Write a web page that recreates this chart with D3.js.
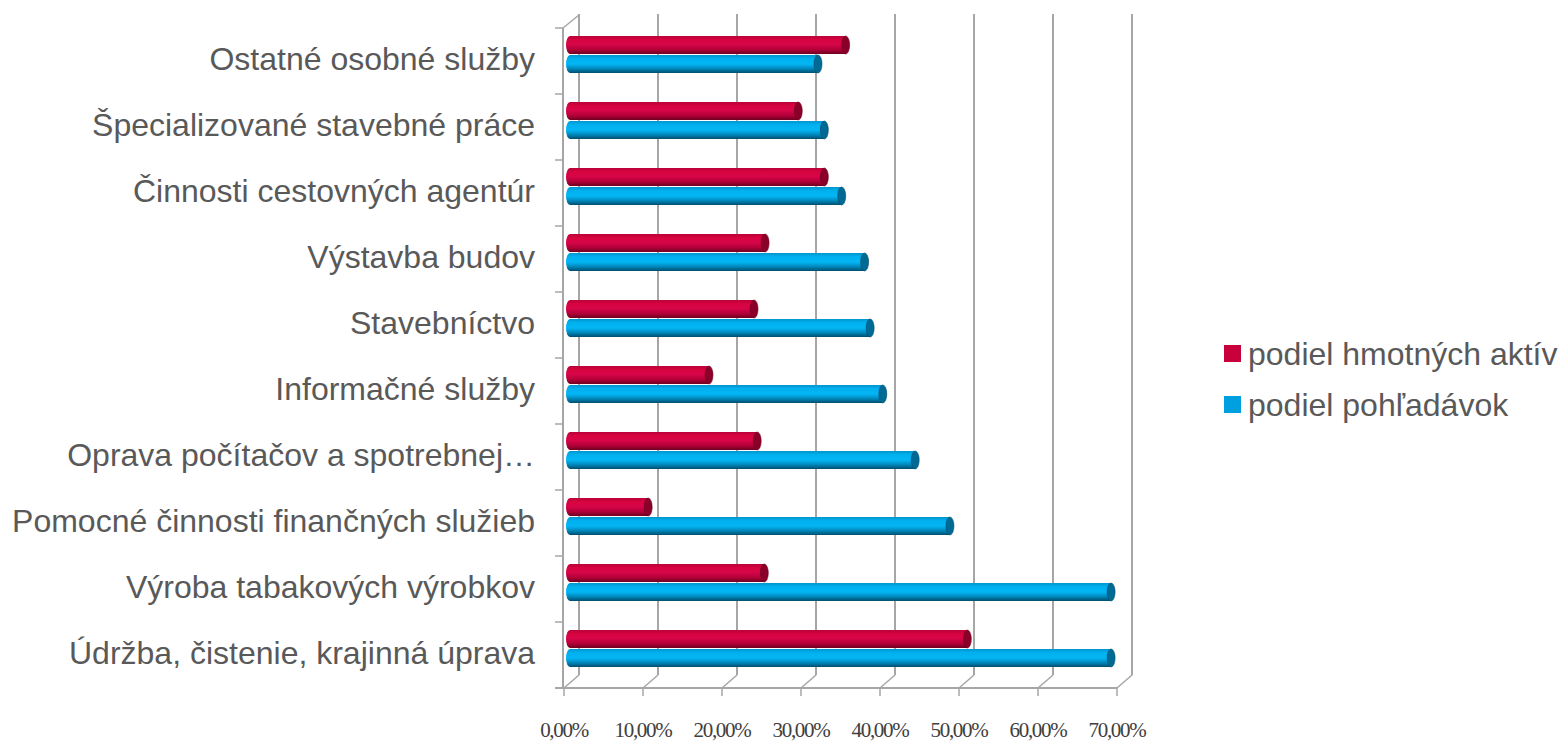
<!DOCTYPE html>
<html>
<head>
<meta charset="utf-8">
<script src="https://cdn.jsdelivr.net/npm/d3@7"></script>
<style>
  body { margin: 0; background: #fff; }
  svg { display: block; }
</style>
</head>
<body>
<div id="chart"></div>
<script>
// categories from top to bottom
var categories = [
    "Ostatné osobné služby",
    "Špecializované stavebné práce",
    "Činnosti cestovných agentúr",
    "Výstavba budov",
    "Stavebníctvo",
    "Informačné služby",
    "Oprava počítačov a spotrebnej…",
    "Pomocné činnosti finančných služieb",
    "Výroba tabakových výrobkov",
    "Údržba, čistenie, krajinná úprava"
];
var hmotneAktiva = [0.354, 0.294, 0.327, 0.252, 0.238, 0.181, 0.242, 0.104, 0.251, 0.508];
var pohladavky   = [0.319, 0.327, 0.349, 0.378, 0.385, 0.401, 0.442, 0.486, 0.690, 0.690];
var seriesNames = ["podiel hmotných aktív", "podiel pohľadávok"];
var tickValues = [0, 0.1, 0.2, 0.3, 0.4, 0.5, 0.6, 0.7];

var width = 1560, height = 741;
var depth = {dx: 15, dy: -13};

var svg = d3.select("#chart").append("svg")
    .attr("width", width)
    .attr("height", height);

var defs = svg.append("defs");

function cylGradient(id, stops) {
    var g = defs.append("linearGradient")
        .attr("id", id)
        .attr("x1", 0).attr("y1", 0).attr("x2", 0).attr("y2", 1);
    stops.forEach(function(s) {
        g.append("stop").attr("offset", s[0]).attr("stop-color", s[1]);
    });
}
cylGradient("gradRed", [[0, "#b8003a"], [0.2, "#d6043f"], [0.45, "#d8064a"], [0.75, "#b3003a"], [1, "#6e0020"]]);
cylGradient("gradBlue", [[0, "#0094cc"], [0.2, "#00b0ee"], [0.5, "#05b6f5"], [0.75, "#0089bd"], [1, "#004e6e"]]);

// front axis scales
var xFront = d3.scaleLinear().domain([0, 0.7]).range([564, 1117]);
var xBar = d3.scaleLinear().domain([0, 0.7]).range([570, 1123]);
var yBand = d3.scaleBand().domain(categories).range([28, 688]);

var gridColor = "#a6a6a6";

// back wall gridlines
svg.append("g").selectAll("line")
    .data(tickValues)
    .enter().append("line")
        .attr("x1", function(d) { return xFront(d) + depth.dx; })
        .attr("x2", function(d) { return xFront(d) + depth.dx; })
        .attr("y1", 14)
        .attr("y2", 688 + depth.dy)
        .attr("stroke", gridColor)
        .attr("stroke-width", 2);

// floor diagonals
svg.append("g").selectAll("line")
    .data(tickValues)
    .enter().append("line")
        .attr("x1", function(d) { return xFront(d); })
        .attr("y1", 688)
        .attr("x2", function(d) { return xFront(d) + depth.dx; })
        .attr("y2", 688 + depth.dy)
        .attr("stroke", gridColor)
        .attr("stroke-width", 1.5);

// left wall: front vertical axis and top diagonal
var leftX = xFront(0) - 1;
svg.append("line")
    .attr("x1", leftX).attr("x2", leftX)
    .attr("y1", 28).attr("y2", 688)
    .attr("stroke", gridColor).attr("stroke-width", 2);
svg.append("line")
    .attr("x1", leftX).attr("y1", 28)
    .attr("x2", leftX + depth.dx + 1).attr("y2", 28 + depth.dy)
    .attr("stroke", gridColor).attr("stroke-width", 1.5);

// category ticks on the left axis
svg.append("g").selectAll("line")
    .data(categories.concat(["end"]))
    .enter().append("line")
        .attr("x1", leftX - 8).attr("x2", leftX)
        .attr("y1", function(d, i) { return i < categories.length ? yBand(d) : 688; })
        .attr("y2", function(d, i) { return i < categories.length ? yBand(d) : 688; })
        .attr("stroke", gridColor).attr("stroke-width", 1.5);

// bottom axis line
svg.append("line")
    .attr("x1", leftX - 8).attr("x2", xFront(0.7))
    .attr("y1", 688).attr("y2", 688)
    .attr("stroke", gridColor).attr("stroke-width", 2);
svg.append("g").selectAll("line")
    .data(tickValues)
    .enter().append("line")
        .attr("x1", function(d) { return xFront(d); })
        .attr("x2", function(d) { return xFront(d); })
        .attr("y1", 688).attr("y2", 696)
        .attr("stroke", gridColor).attr("stroke-width", 1.5);

// x tick labels
svg.append("g").selectAll("text")
    .data(tickValues)
    .enter().append("text")
        .attr("x", function(d) { return xFront(d); })
        .attr("y", 737)
        .attr("text-anchor", "middle")
        .attr("font-family", "Liberation Serif, serif")
        .attr("font-size", 21)
        .attr("letter-spacing", -1.3)
        .attr("fill", "#404040")
        .text(function(d) { return d3.format(".2f")(d * 100).replace(".", ",") + "%"; });

// category labels
svg.append("g").selectAll("text")
    .data(categories)
    .enter().append("text")
        .attr("x", 535)
        .attr("y", function(d) { return yBand(d) + yBand.bandwidth() / 2 - 2; })
        .attr("dy", "0.35em")
        .attr("text-anchor", "end")
        .attr("font-family", "Liberation Sans, Arial, sans-serif")
        .attr("font-size", 32)
        .attr("fill", "#595959")
        .text(function(d) { return d; });

// cylinders
var barH = 18, rx = 4;
function cylinder(g, x0, x1, y, fill, capFill, edge) {
    var r = barH / 2, cy = y + r;
    g.append("path")
        .attr("d", "M" + x1 + "," + y +
              " L" + x0 + "," + y +
              " A" + rx + "," + r + " 0 0 0 " + x0 + "," + (y + barH) +
              " L" + x1 + "," + (y + barH) + " Z")
        .attr("fill", fill);
    g.append("ellipse")
        .attr("cx", x1).attr("cy", cy)
        .attr("rx", rx).attr("ry", r)
        .attr("fill", capFill)
        .attr("stroke", edge).attr("stroke-width", 0.6);
}

var bars = svg.append("g");
categories.forEach(function(c, i) {
    var top = yBand(c) + 8;
    cylinder(bars, xBar(0), xBar(hmotneAktiva[i]) - rx, top, "url(#gradRed)", "#8a0028", "#6e0020");
    cylinder(bars, xBar(0), xBar(pohladavky[i]) - rx, top + barH + 1, "url(#gradBlue)", "#006a94", "#004e6e");
});

// legend
var legendColors = ["#c8003c", "#009fe0"];
var legend = svg.append("g").selectAll("g")
    .data(seriesNames)
    .enter().append("g")
        .attr("transform", function(d, i) { return "translate(1224," + (345 + i * 51) + ")"; });
legend.append("rect")
    .attr("width", 17).attr("height", 17)
    .attr("fill", function(d, i) { return legendColors[i]; });
legend.append("text")
    .attr("x", 24).attr("y", 8.5)
    .attr("dy", "0.35em")
    .attr("font-family", "Liberation Sans, Arial, sans-serif")
    .attr("font-size", 32)
    .attr("fill", "#595959")
    .text(function(d) { return d; });
</script>
</body>
</html>
